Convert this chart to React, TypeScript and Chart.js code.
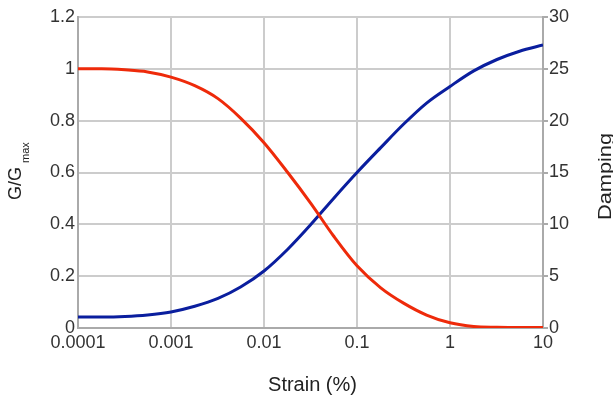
import React, { useEffect, useRef } from "react";
import { Chart, registerables } from "chart.js";

Chart.register(...registerables);

const strain = [0.0001, 0.00018, 0.00032, 0.00056, 0.001, 0.0018, 0.0032, 0.0056, 0.01, 0.018, 0.032, 0.056, 0.1, 0.18, 0.32, 0.56, 1, 1.8, 3.2, 5.6, 10];
const modulusRatio = [1.0, 1.0, 0.996, 0.988, 0.968, 0.935, 0.885, 0.81, 0.715, 0.6, 0.48, 0.355, 0.24, 0.155, 0.095, 0.05, 0.02, 0.006, 0.003, 0.002, 0.002];
const damping = [1.05, 1.05, 1.1, 1.25, 1.55, 2.1, 2.85, 3.95, 5.5, 7.6, 10.0, 12.5, 15.0, 17.4, 19.7, 21.7, 23.3, 24.8, 25.9, 26.7, 27.3];

const xTicks = [0.0001, 0.001, 0.01, 0.1, 1, 10];
const leftTicks = [0, 0.2, 0.4, 0.6, 0.8, 1, 1.2];
const rightTicks = [0, 5, 10, 15, 20, 25, 30];

const FONT = "Liberation Sans";

const titlesPlugin = {
  id: "titles",
  afterDraw(chart: any) {
    const ctx = chart.ctx;
    const area = chart.chartArea;
    ctx.save();
    ctx.fillStyle = "#222";
    ctx.textBaseline = "alphabetic";
    // x title
    ctx.font = `20px "${FONT}"`;
    ctx.textAlign = "center";
    ctx.fillText("Strain (%)", (area.left + area.right) / 2 + 2, 391);

    // left title G/Gmax
    ctx.save();
    ctx.translate(21, 200);
    ctx.rotate(-Math.PI / 2);
    ctx.textAlign = "left";
    ctx.font = `18px "${FONT}"`;
    ctx.fillText("G/G", 0, 0);
    const w = ctx.measureText("G/G").width;
    ctx.font = `11px "${FONT}"`;
    ctx.fillText("max", w + 4, 8);
    ctx.restore();

    // right title Damping
    ctx.save();
    ctx.translate(611, 176.5);
    ctx.rotate(-Math.PI / 2);
    ctx.textAlign = "center";
    ctx.font = `19px "${FONT}"`;
    const dw = ctx.measureText("Damping").width;
    ctx.scale(87 / dw, 1);
    ctx.fillText("Damping", 0, 0);
    ctx.restore();

    ctx.restore();
  },
};

export default function App() {
  const ref = useRef<HTMLCanvasElement | null>(null);

  useEffect(() => {
    if (!ref.current) return;
    const chart = new Chart(ref.current, {
      type: "line",
      data: {
        datasets: [
          {
            label: "G/Gmax",
            data: strain.map((x, i) => ({ x, y: modulusRatio[i] })),
            borderColor: "#ee2a0a",
            borderWidth: 3,
            pointRadius: 0,
            cubicInterpolationMode: "monotone",
            yAxisID: "y",
          },
          {
            label: "Damping",
            data: strain.map((x, i) => ({ x, y: damping[i] })),
            borderColor: "#0a1e9e",
            borderWidth: 3,
            pointRadius: 0,
            cubicInterpolationMode: "monotone",
            yAxisID: "y2",
          },
        ],
      },
      options: {
        responsive: false,
        animation: false,
        layout: { padding: { top: 17, left: 0, right: 0, bottom: 0 } },
        plugins: { legend: { display: false }, tooltip: { enabled: false } },
        scales: {
          x: {
            type: "logarithmic",
            min: 0.0001,
            max: 10,
            afterBuildTicks: (s: any) => {
              s.ticks = xTicks.map((v) => ({ value: v }));
            },
            afterFit: (s: any) => {
              s.height = 72;
            },
            ticks: {
              autoSkip: false,
              maxRotation: 0,
              padding: 4,
              color: "#333",
              font: { family: FONT, size: 18 },
              callback: (v: any) => String(v),
            },
            grid: { color: "#cccccc", lineWidth: 2, tickLength: 0 },
            border: { color: "#aaaaaa", width: 2 },
          },
          y: {
            position: "left",
            min: 0,
            max: 1.2,
            afterBuildTicks: (s: any) => {
              s.ticks = leftTicks.map((v) => ({ value: v }));
            },
            afterFit: (s: any) => {
              s.width = 78;
            },
            ticks: {
              padding: 3,
              color: "#333",
              font: { family: FONT, size: 18 },
              callback: (v: any) => String(Math.round(v * 10) / 10),
            },
            grid: { color: "#cccccc", lineWidth: 2, tickLength: 0 },
            border: { color: "#aaaaaa", width: 2 },
          },
          y2: {
            position: "right",
            min: 0,
            max: 30,
            afterBuildTicks: (s: any) => {
              s.ticks = rightTicks.map((v) => ({ value: v }));
            },
            afterFit: (s: any) => {
              s.width = 70;
            },
            ticks: {
              padding: 1,
              color: "#333",
              font: { family: FONT, size: 18 },
            },
            grid: { drawOnChartArea: false, color: "#aaaaaa", lineWidth: 2, tickLength: 5 },
            border: { color: "#aaaaaa", width: 2 },
          },
        },
      },
      plugins: [titlesPlugin],
    });
    return () => chart.destroy();
  }, []);

  return (
    <div style={{ position: "absolute", left: 0, top: 0, width: 613, height: 400, background: "#fff" }}>
      <canvas ref={ref} width={613} height={400} style={{ display: "block" }} />
    </div>
  );
}
